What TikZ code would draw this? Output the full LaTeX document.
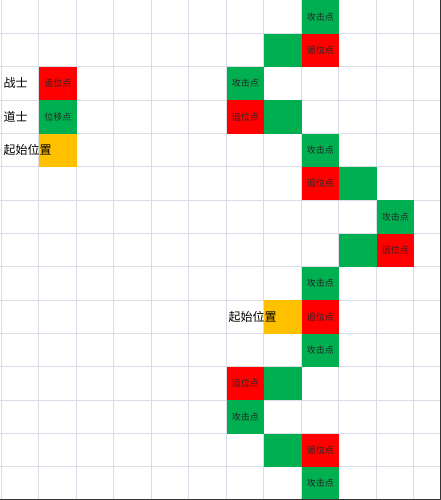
\documentclass[tikz,border=0pt]{standalone}
\usepackage{fontspec}
\setmainfont{Noto Sans CJK SC}
\begin{document}
\begin{tikzpicture}[x=37.5pt, y=-33.333pt, font=\fontsize{9}{9}\selectfont, line join=round]
	\def\o{0.035}
	\definecolor{gridc}{HTML}{DADDE8}
	\definecolor{hong}{HTML}{FF0000}
	\definecolor{lv}{HTML}{00B050}
	\definecolor{huang}{HTML}{FFC000}
	\tikzset{
		cell/.style={anchor=north west, minimum width=37.5pt, minimum height=33.333pt, inner sep=0pt, text=black!85},
		lbl/.style={anchor=west, inner sep=2pt, font=\fontsize{12}{12}\selectfont}
	}
	\useasboundingbox (0,0) rectangle (11.76,15);
	\fill[white] (0,0) rectangle (11.76,15);
	% grid
	\foreach \k in {0,...,11} \draw[gridc, line width=1pt] (\o+\k,0)--(\o+\k,15);
	\foreach \k in {1,...,14} \draw[gridc, line width=1pt] (0,\k)--(11.76,\k);
	% cells
	\foreach \r/\c/\col/\txt in {0/8/lv/攻击点, 1/7/lv/, 1/8/hong/追位点, 2/1/hong/追位点, 2/6/lv/攻击点,
		3/1/lv/位移点, 3/6/hong/追位点, 3/7/lv/, 4/1/huang/, 4/8/lv/攻击点, 5/8/hong/追位点, 5/9/lv/,
		6/10/lv/攻击点, 7/9/lv/, 7/10/hong/追位点, 8/8/lv/攻击点, 9/7/huang/, 9/8/hong/追位点,
		10/8/lv/攻击点, 11/6/hong/追位点, 11/7/lv/, 12/6/lv/攻击点, 13/7/lv/, 13/8/hong/追位点, 14/8/lv/攻击点}
		\node[cell, fill=\col] (c\r-\c) at (\o+\c,\r) {\txt};
	% labels
	\node[lbl] (zhanshi) at (\o,2.5) {战士};
	\node[lbl] (daoshi) at (\o,3.5) {道士};
	\node[lbl] (qishiA) at (\o,4.5) {起始位置};
	\node[lbl] (qishiB) at (\o+6,9.5) {起始位置};
	% border
	\draw[black!80, line width=1.2pt] (11.745,0)--(11.745,14.985)--(0,14.985);
\end{tikzpicture}
\end{document}
